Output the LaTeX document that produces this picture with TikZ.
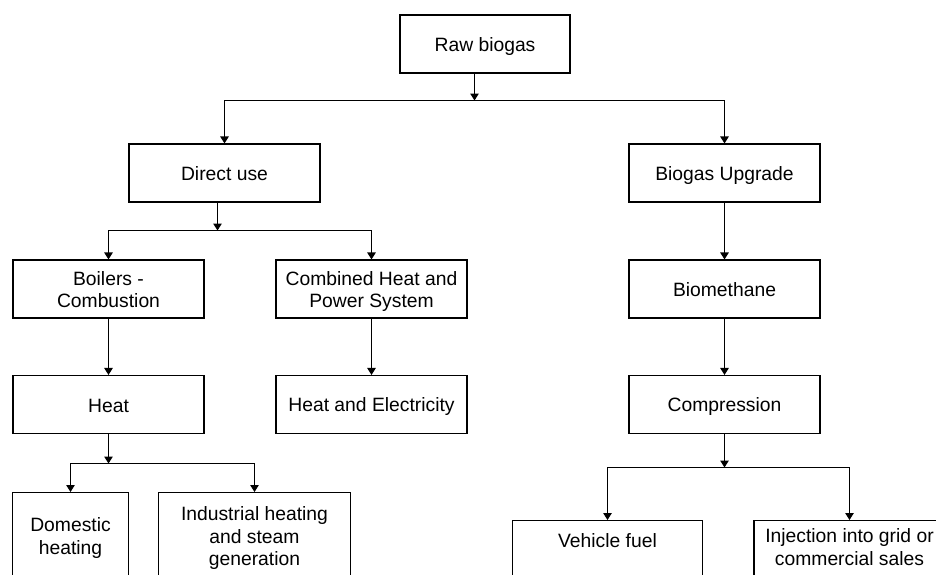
\documentclass[tikz,border=0pt]{standalone}
\usepackage{fontspec}
\setmainfont{Liberation Sans}
\usetikzlibrary{arrows.meta}

% line strut: 18.5pt above the baseline, 3.5pt below
\newcommand\lstrut{\rule[-3.5pt]{0pt}{22pt}}
% first-line height for boxes that run past the lower edge
\newcommand\toprule[1]{\rule{0pt}{#1}}
\newcommand\deeprule{\rule[-70pt]{0pt}{0pt}}

\begin{document}
\begin{tikzpicture}[x=1pt, y=-1pt,
  box/.style={draw, line width=1.1pt, align=center, inner sep=0pt,
    font=\fontsize{19.3}{22.5}\selectfont, minimum width=#1},
  box/.default=191pt,
  stepbox/.style={box=#1, minimum height=58pt},
  stepbox/.default=191pt,
  cutbox/.style={box=#1, anchor=north},
  arr/.style={line width=1.1pt, -{Triangle[width=8.5pt,length=7pt]}}]

\clip (0,0) rectangle (936,574);

% first level
\node[stepbox=170pt] (raw) at (485,44) {\lstrut Raw biogas\lstrut};
\node[stepbox] (direct)  at (224.5,173) {\lstrut Direct use\lstrut};
\node[stepbox] (upgrade) at (724.5,173) {\lstrut Biogas Upgrade\lstrut};

% direct use branch
\node[stepbox] (boilers) at (108.5,289) {\lstrut Boilers -\\Combustion\lstrut};
\node[stepbox] (chp)     at (371.5,289) {\lstrut Combined Heat and\\Power System\lstrut};
\node[stepbox] (heat)    at (108.5,404.5) {\lstrut Heat\lstrut};
\node[stepbox] (heatel)  at (371.5,404.5) {\lstrut Heat and Electricity\lstrut};
\node[cutbox=116pt] (domestic)   at (70.5,492)  {\toprule{39pt}Domestic\\heating\deeprule};
\node[cutbox=192pt] (industrial) at (254.5,492) {\toprule{28pt}Industrial heating\\and steam\\generation\deeprule};

% upgrade branch
\node[stepbox] (biometh) at (724.5,289) {\lstrut Biomethane\lstrut};
\node[stepbox] (compr)   at (724.5,404.5) {\lstrut Compression\lstrut};
\node[cutbox=190pt] (vehicle)   at (607.5,520)   {\toprule{27pt}Vehicle fuel\deeprule};
\node[cutbox=191pt] (injection) at (849.5,520) {\toprule{22pt}Injection into grid or\\commercial sales\deeprule};

% junctions
\coordinate (j1) at (474.5,100.5);
\coordinate (j2) at (217.5,230.5);
\coordinate (j3) at (108.5,463.5);
\coordinate (j4) at (724.5,467.5);

% connectors
\draw[arr] (raw.south -| j1) -- (j1);
\draw[arr] (j1) -| (direct.north);
\draw[arr] (j1) -| (upgrade.north);

\draw[arr] (direct.south -| j2) -- (j2);
\draw[arr] (j2) -| (boilers.north);
\draw[arr] (j2) -| (chp.north);
\draw[arr] (boilers) -- (heat);
\draw[arr] (chp) -- (heatel);

\draw[arr] (heat.south) -- (j3);
\draw[arr] (j3) -| (domestic.north);
\draw[arr] (j3) -| (industrial.north);

\draw[arr] (upgrade) -- (biometh);
\draw[arr] (biometh) -- (compr);
\draw[arr] (compr.south) -- (j4);
\draw[arr] (j4) -| (vehicle.north);
\draw[arr] (j4) -| (injection.north);
\end{tikzpicture}
\end{document}
